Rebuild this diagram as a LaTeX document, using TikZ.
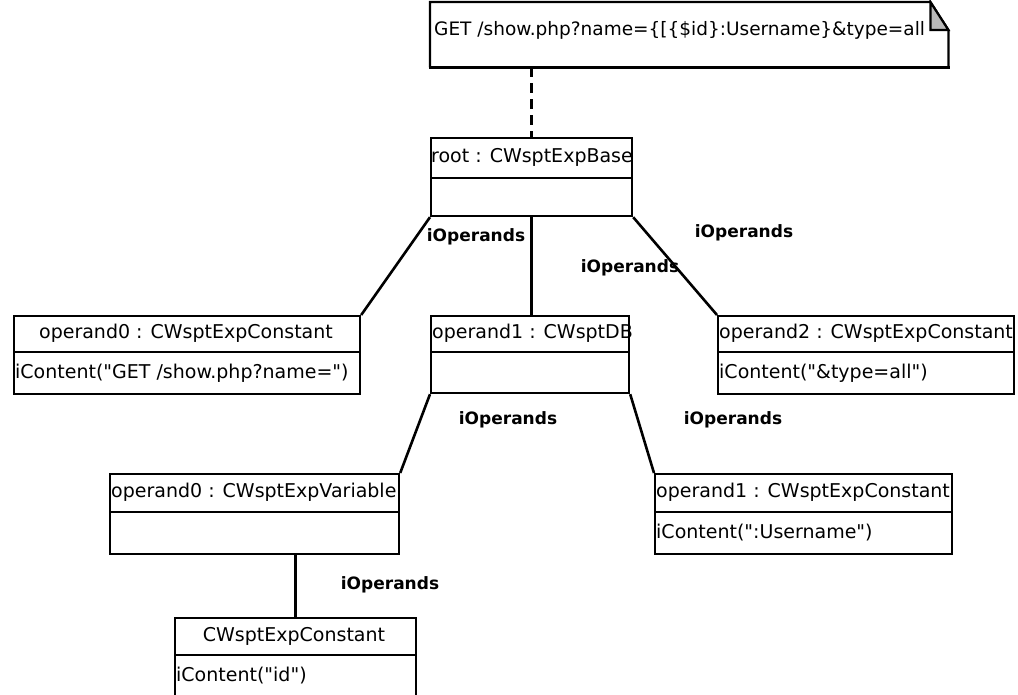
\documentclass[tikz,border=0pt]{standalone}
\usepackage{fontspec}
\setmainfont{DejaVu Sans}[Ligatures=TeXOff]
\begin{document}
\begin{tikzpicture}[x=1pt,y=-1pt,
  box/.style={draw, line width=2.2pt, inner sep=0pt, anchor=north west},
  divline/.style={line width=2.2pt},
  conn/.style={line width=2.6pt},
  ttl/.style={font=\fontsize{19}{21}\selectfont, inner sep=0pt},
  notefont/.style={font=\fontsize{18.5}{21}\selectfont, inner sep=0pt},
  lbl/.style={font=\fontsize{17}{19}\selectfont\bfseries, inner sep=0pt}]
\useasboundingbox[fill=white] (0,0) rectangle (1018,695);

% note
\node[inner sep=0pt, anchor=north west, minimum width=518pt, minimum height=65pt] (note) at (430,2) {};
\draw[divline, fill=white] (note.south west) -- (note.north west) -- ([xshift=-18pt]note.north east) -- ([yshift=-28pt]note.north east) -- (note.south east);
\draw[line width=3.5pt] ([xshift=-1.1pt]note.south west) -- ([xshift=1.1pt]note.south east);
\filldraw[divline, fill=gray!55, line join=miter] ([xshift=-18pt]note.north east) -- ([xshift=-18pt,yshift=-28pt]note.north east) -- ([yshift=-28pt]note.north east) -- cycle;
\node[notefont, anchor=west] (notet) at (434,30) {GET /show.php?name=\{[\{\$id\}:Username\}\&type=all};

% boxes
\node[box, minimum width=201pt, minimum height=78pt] (root) at (430,137) {};
\draw[divline] ([yshift=-41pt]root.north west) -- ([yshift=-41pt]root.north east);
\node[ttl, anchor=west] (roott) at (431,157) {root : CWsptExpBase};

\node[box, minimum width=346pt, minimum height=78pt] (opzc) at (13,315) {};
\draw[divline] ([yshift=-37pt]opzc.north west) -- ([yshift=-37pt]opzc.north east);
\node[ttl] (opzct) at (186,333) {operand0 : CWsptExpConstant};
\node[ttl, anchor=west] (opzcc) at (15,373) {iContent("GET /show.php?name=")};

\node[box, minimum width=198pt, minimum height=77pt] (db) at (430,315) {};
\draw[divline] ([yshift=-37pt]db.north west) -- ([yshift=-37pt]db.north east);
\node[ttl, anchor=west] (dbt) at (432,333) {operand1 : CWsptDB};

\node[box, minimum width=296pt, minimum height=78pt] (optwo) at (717,315) {};
\draw[divline] ([yshift=-37pt]optwo.north west) -- ([yshift=-37pt]optwo.north east);
\node[ttl, anchor=west] (optwot) at (719,333) {operand2 : CWsptExpConstant};
\node[ttl, anchor=west] (optwoc) at (719,373) {iContent("\&type=all")};

\node[box, minimum width=289pt, minimum height=80pt] (var) at (109,473) {};
\draw[divline] ([yshift=-39pt]var.north west) -- ([yshift=-39pt]var.north east);
\node[ttl, anchor=west] (vart) at (111,492) {operand0 : CWsptExpVariable};

\node[box, minimum width=297pt, minimum height=80pt] (oponec) at (654,473) {};
\draw[divline] ([yshift=-39pt]oponec.north west) -- ([yshift=-39pt]oponec.north east);
\node[ttl, anchor=west] (oponect) at (656,492) {operand1 : CWsptExpConstant};
\node[ttl, anchor=west] (oponecc) at (656,533) {iContent(":Username")};

\node[box, minimum width=241pt, minimum height=90pt] (last) at (174,617) {};
\draw[divline] ([yshift=-38pt]last.north west) -- ([yshift=-38pt]last.north east);
\node[ttl] (lastt) at (294,636) {CWsptExpConstant};
\node[ttl, anchor=west] (lastc) at (176,676) {iContent("id")};

% connectors
\draw[conn, dash pattern=on 10pt off 6pt] (root.north |- note.south) -- (root.north);
\draw[conn] (root.south west) -- (opzc.north east);
\draw[conn] (root.south) -- (root.south |- db.north);
\draw[conn] (root.south east) -- (optwo.north west);
\draw[conn] (db.south west) -- (var.north east);
\draw[conn] (db.south east) -- (oponec.north west);
\draw[conn] (last.north |- var.south) -- (last.north);

% labels
\node[lbl] (la) at (476,237) {iOperands};
\node[lbl] (lb) at (744,233) {iOperands};
\node[lbl] (lc) at (630,268) {iOperands};
\node[lbl] (ld) at (508,420) {iOperands};
\node[lbl] (le) at (733,420) {iOperands};
\node[lbl] (lf) at (390,585) {iOperands};
\end{tikzpicture}
\end{document}
